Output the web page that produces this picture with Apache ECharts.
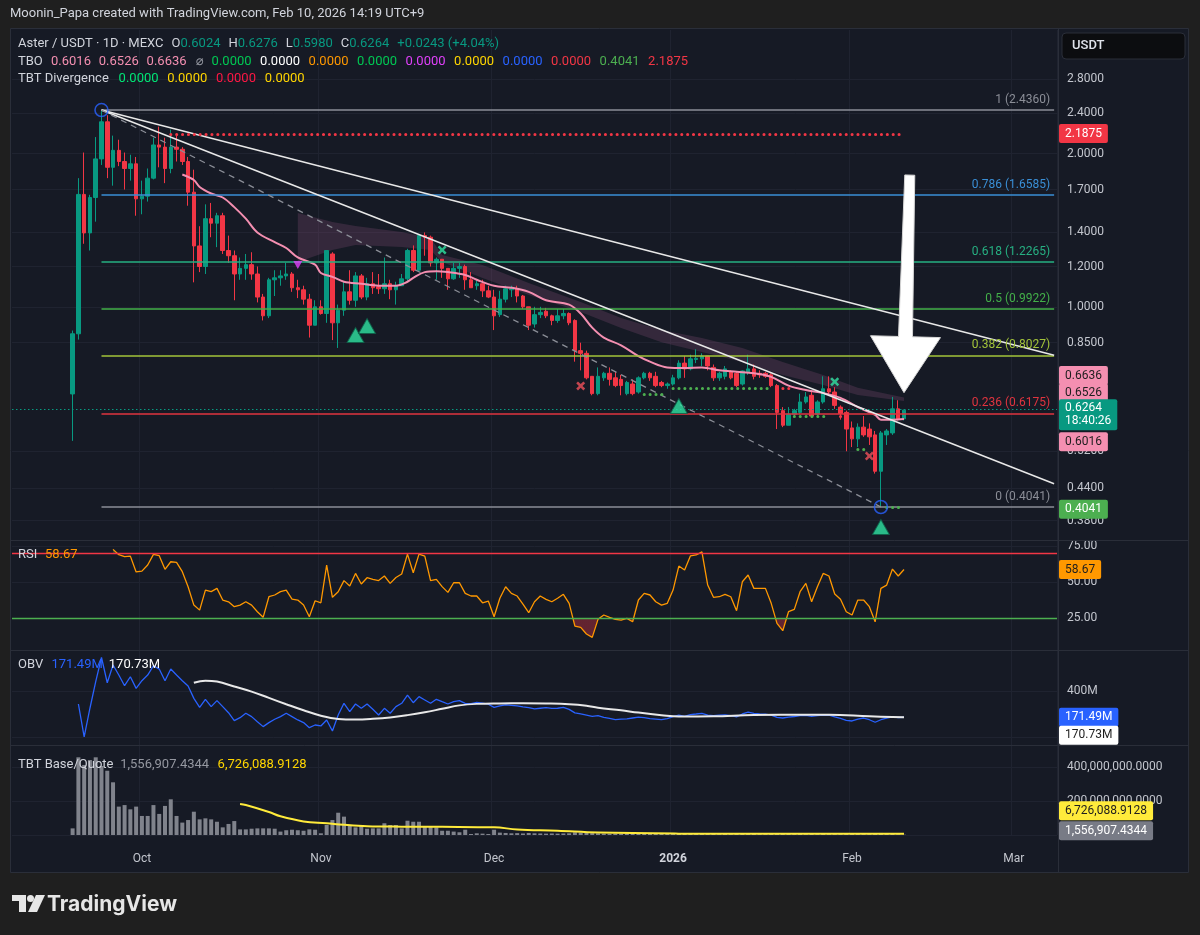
<!DOCTYPE html>
<html>
<head>
<meta charset="utf-8">
<title>Aster / USDT 1D</title>
<script src="https://cdn.jsdelivr.net/npm/echarts@6.0.0/dist/echarts.min.js"></script>
<style>
html, body { margin: 0; padding: 0; background: #1f1f1f; }
#chart { width: 1200px; height: 935px; }
</style>
</head>
<body>
<div id="chart"></div>
<script>
const FONT = 'Roboto, "DejaVu Sans", sans-serif';
const UP = '#089981', DOWN = '#f23645';
const OFF = 10;    // first candle (Sep 19) is 10 slots after the axis start (Sep 9)
const NCAT = 181;  // Sep 9 2025 .. Mar 8 2026

// ---- data ----
const opens = [0.674,0.885,1.663,1.397,1.64,1.953,2.31,1.88,2.03,1.93,
  1.87,1.91,1.63,1.65,1.79,2.08,2.06,1.87,2.06,2.04,
  1.93,1.68,1.317,1.20,1.49,1.46,1.51,1.29,1.26,1.16,
  1.19,1.21,1.16,1.045,0.96,1.13,1.14,1.15,1.16,1.09,
  1.08,1.035,0.92,1.0,0.97,1.27,0.93,0.985,1.07,1.03,
  1.15,1.045,1.11,1.095,1.085,1.11,1.08,1.10,1.135,1.29,
  1.18,1.38,1.37,1.22,1.24,1.19,1.135,1.19,1.20,1.13,
  1.10,1.11,1.075,1.045,0.965,1.035,1.08,1.085,1.05,1.0,
  0.925,0.965,0.98,0.96,0.94,0.96,0.97,0.94,0.82,0.81,
  0.73,0.675,0.725,0.74,0.725,0.72,0.675,0.705,0.68,0.725,
  0.74,0.73,0.71,0.70,0.705,0.725,0.775,0.755,0.788,0.79,
  0.80,0.76,0.725,0.73,0.745,0.74,0.705,0.745,0.755,0.74,
  0.74,0.735,0.70,0.625,0.585,0.615,0.62,0.65,0.67,0.615,
  0.65,0.69,0.68,0.635,0.62,0.578,0.55,0.58,0.575,0.56,
  0.475,0.56,0.565,0.63,0.6024];
const closes = [0.885,1.663,1.397,1.64,1.953,2.31,1.88,2.03,1.93,1.87,
  1.91,1.63,1.65,1.79,2.08,2.06,1.87,2.06,2.04,1.93,
  1.68,1.317,1.20,1.49,1.46,1.51,1.29,1.26,1.16,1.19,
  1.21,1.16,1.045,0.96,1.13,1.14,1.15,1.16,1.09,1.08,
  1.035,0.92,1.0,0.97,1.29,0.93,0.985,1.07,1.03,1.15,
  1.045,1.11,1.09,1.085,1.11,1.08,1.10,1.135,1.29,1.18,
  1.38,1.37,1.22,1.24,1.19,1.135,1.19,1.20,1.13,1.09,
  1.11,1.075,1.045,0.96,1.035,1.085,1.085,1.05,1.0,0.92,
  0.965,0.975,0.96,0.94,0.96,0.97,0.93,0.82,0.81,0.725,
  0.675,0.73,0.74,0.72,0.70,0.70,0.71,0.675,0.725,0.74,
  0.725,0.70,0.70,0.705,0.725,0.775,0.755,0.79,0.792,0.80,
  0.765,0.725,0.74,0.755,0.725,0.70,0.748,0.755,0.73,0.735,
  0.73,0.70,0.62,0.585,0.615,0.625,0.65,0.665,0.61,0.65,
  0.69,0.68,0.64,0.617,0.575,0.55,0.58,0.56,0.555,0.475,
  0.565,0.57,0.63,0.6024,0.6264];
const lows = [0.545,0.862,1.33,1.29,1.47,1.90,1.79,1.73,1.89,1.70,
  1.77,1.51,1.52,1.61,1.78,1.88,1.75,1.83,1.93,1.90,
  1.58,1.117,1.17,1.16,1.37,1.31,1.27,1.22,1.03,1.13,
  1.13,1.13,1.02,0.94,0.95,1.05,1.10,1.13,1.07,1.04,
  1.01,0.87,0.92,0.965,0.93,0.86,0.83,0.96,1.01,1.0,
  1.035,1.03,1.06,1.06,1.06,1.035,1.01,1.10,1.12,1.17,
  1.17,1.26,1.20,1.13,1.14,1.08,1.13,1.14,1.08,1.09,
  1.08,1.045,1.04,0.90,0.955,1.02,1.045,1.02,0.99,0.90,
  0.91,0.95,0.95,0.92,0.93,0.945,0.92,0.78,0.75,0.72,
  0.67,0.67,0.715,0.70,0.695,0.67,0.67,0.67,0.675,0.72,
  0.715,0.695,0.695,0.69,0.70,0.72,0.725,0.75,0.775,0.765,
  0.75,0.715,0.715,0.72,0.72,0.695,0.70,0.735,0.72,0.725,
  0.725,0.695,0.575,0.58,0.585,0.61,0.615,0.645,0.605,0.61,
  0.645,0.67,0.63,0.60,0.52,0.53,0.53,0.555,0.535,0.47,
  0.4041,0.535,0.56,0.598,0.598];
const highs = [0.898,1.79,2.01,1.66,2.156,2.436,2.38,2.17,2.13,2.01,
  1.99,1.97,1.77,1.87,2.15,2.26,2.15,2.23,2.17,2.06,
  1.97,1.86,1.44,1.59,1.60,1.53,1.53,1.38,1.29,1.25,
  1.27,1.28,1.20,1.06,1.14,1.18,1.18,1.22,1.17,1.13,
  1.10,1.06,1.03,1.03,1.29,1.28,1.01,1.12,1.18,1.17,
  1.16,1.14,1.17,1.16,1.25,1.13,1.12,1.16,1.30,1.32,
  1.39,1.40,1.38,1.25,1.24,1.19,1.22,1.22,1.21,1.17,
  1.13,1.13,1.10,1.08,1.075,1.10,1.10,1.10,1.055,1.0,
  1.0,1.0,0.995,0.965,0.99,0.99,0.975,0.945,0.85,0.82,
  0.73,0.76,0.745,0.76,0.745,0.735,0.715,0.72,0.73,0.745,
  0.745,0.745,0.715,0.71,0.735,0.785,0.80,0.805,0.825,0.81,
  0.80,0.77,0.745,0.765,0.75,0.745,0.75,0.805,0.77,0.75,
  0.745,0.74,0.705,0.635,0.635,0.63,0.675,0.68,0.68,0.655,
  0.73,0.73,0.695,0.64,0.625,0.595,0.59,0.61,0.59,0.57,
  0.57,0.575,0.665,0.655,0.6276];

// TBO fast line, sampled [candle, price]
const tboFast = [[19,1.82],[21,1.775],[22,1.72],[24,1.67],[26,1.64],[28,1.57],[30,1.49],[32,1.40],
  [35,1.34],[37,1.305],[39,1.25],[42,1.21],[43,1.165],[45,1.145],[47,1.12],[50,1.11],[53,1.10],
  [56,1.10],[58,1.12],[59,1.14],[61,1.17],[63,1.175],[65,1.17],[68,1.155],[70,1.13],[73,1.10],
  [76,1.09],[79,1.07],[82,1.03],[86,1.01],[88,0.97],[90,0.91],[92,0.87],[95,0.84],[98,0.80],
  [100,0.78],[103,0.76],[106,0.758],[109,0.76],[112,0.75],[115,0.745],[118,0.74],[121,0.728],
  [124,0.70],[127,0.686],[130,0.677],[133,0.662],[136,0.635],[139,0.613],[140,0.60],[142,0.60],[144,0.6016]];
// TBO medium / slow cloud
const bandIdx = [39,45,49,57,62,64,71,79,88,95,102,109,116,123,130,136,144];
const bandUpper = [1.529,1.467,1.441,1.403,1.365,1.264,1.208,1.114,1.022,0.951,0.900,0.868,0.830,0.779,0.734,0.693,0.6636];
const bandLower = [1.225,1.293,1.323,1.311,1.293,1.225,1.139,1.055,0.977,0.908,0.852,0.815,0.779,0.734,0.702,0.671,0.6526];

const fibLevels = ['1', '0.786', '0.618', '0.5', '0.382', '0.236', '0'];
const fibPrices = [2.4360, 1.6585, 1.2265, 0.9922, 0.8027, 0.6175, 0.4041];
const fibStart = 5;
const trendA = [[5, 2.436], [170, 0.803]];
const trendB = [[5, 2.436], [170, 0.449]];
const trendDashed = [[5, 2.436], [140, 0.4041]];

const greenDotSegs = [[99,103,0.673],[104,121,0.693],[125,131,0.610],[136,138,0.5255],[141,144,0.4041]];
const redDotSegs = [[17,144,2.1875],[122,125,0.693],[133,135,0.610]];

const buySignals = [[49,0.880],[51,0.917],[105,0.638],[140,0.369]];
const sellTriangles = [[39,1.208]];
const greenCrosses = [[64,1.293],[132,0.7125]];
const redCrosses = [[88,0.699],[138,0.509]];
const pivotCircles = [[5,2.436],[140,0.4041]];
const arrowTip = [144, 0.678];
const arrowTail = [145, 1.815];

const lastClose = 0.6264, topLevel = 2.1875, lowLevel = 0.4041;
const tboLast = [0.6016, 0.6526, 0.6636];
const priceTicks = [0.38, 0.44, 0.52, 0.85, 1.0, 1.2, 1.4, 1.7, 2.0, 2.4, 2.8];

const rsi = [null,null,null,null,null,null,null,72.7,69,67.6,
  68,57,57.6,61.8,69.2,68.3,58.8,64.1,63.7,57.2,
  46.7,34,30.5,44.4,43.3,45.6,37.5,36.3,32.9,34,
  36.3,34,29.4,25.5,39.8,41,43.3,44.4,38.2,37.5,
  34,25.9,37,35.6,61.8,39.4,43.3,51,47.2,56,
  48.6,53,51.9,51,54.2,49.1,53.2,55.6,69.4,56.5,
  69.4,68,51,51.9,46.8,42.8,49.5,49.5,42.1,40.3,
  40.3,35.6,36.8,25.9,38.7,46.7,42.1,40.3,34.7,28.7,
  36.3,40.3,38,36.3,38.7,41.5,35.2,19.4,18.5,13.9,
  11.6,24.1,27.1,25.5,24,23.6,24.8,22.4,37.5,42.1,
  41,36.3,34,35.2,44.4,61.1,58.3,68.1,68.8,71,
  47.9,39.4,39.8,41.5,39.8,30.1,50.2,54.9,45.6,45.6,
  45.6,35.2,21.3,16.2,29.4,31,43.3,49.1,36.3,46.7,
  56,54.2,41.7,38,29.4,27.1,37.5,37.5,32.9,22.4,
  45.6,47.9,59,54.2,58.67];
const rsiTicks = [25, 50, 75];

// OBV in millions
const obv = [null,287,0,250,481,693,472,626,539,446,
  524,423,490,539,620,591,490,591,539,490,
  443,336,258,328,264,316,264,211,142,168,
  206,177,133,90,125,154,177,206,177,148,
  125,81,104,96,148,52,191,293,220,287,
  249,287,241,191,249,206,264,293,365,298,
  351,322,293,328,307,287,307,316,293,290,
  300,295,285,258,270,280,275,270,262,255,
  245,250,255,248,250,258,240,210,200,190,
  180,185,170,162,150,155,158,165,172,168,
  160,155,150,160,177,190,180,195,200,206,
  190,185,190,192,185,175,200,217,205,200,
  198,190,170,165,172,178,185,188,180,186,
  190,189,175,162,145,139,155,165,150,128,
  150,165,175,168,171.49];
const obvMa = [[21,472],[23,490],[25,482],[28,440],[31,395],[34,340],[37,285],[40,232],[43,185],[46,157],
  [49,152],[52,158],[55,170],[58,190],[61,215],[64,245],[67,275],[70,288],[74,292],[78,293],[82,291],
  [86,285],[89,272],[91,255],[95,232],[98,212],[102,190],[105,178],[111,180],[118,191],[125,193],
  [131,194],[138,180],[144,170.73]];

// TBT base/quote volume in millions
const vol = [39,457,412,441,457,406,378,310,167,176,
  151,167,112,112,176,124,171,210,112,73,
  88,137,92,98,92,78,45,65,82,33,
  33,37,39,39,39,37,20,28,31,28,
  25,33,31,10,59,88,131,108,59,45,
  59,37,39,39,69,59,59,39,84,78,
  78,49,49,45,25,25,20,16,31,6,
  10,8,6,31,14,12,10,11,9,12,
  10,9,8,9,8,9,10,16,14,12,
  11,10,8,7,8,7,9,8,8,7,
  6,7,6,6,7,9,8,7,7,8,
  7,6,5,6,5,6,6,7,6,5,
  5,6,10,8,6,5,6,5,6,5,
  6,5,5,5,8,7,6,5,5,9,
  12,6,6,4,1.56];
const volMa = [[29,182],[30,176],[34,135],[36,110],[40,80],[44,69],[47,60],[51,52],[57,49],[64,48],
  [73,45],[77,33],[84,25],[91,14],[105,8],[118,7],[144,6.73]];

// ---- helpers ----
const cats = [];
for (let i = 0; i < NCAT; i++) cats.push(new Date(Date.UTC(2025, 8, 9 + i)).toISOString().slice(0, 10));
const monthLabels = ['2026','Feb','Mar','Apr','May','Jun','Jul','Aug','Sep','Oct','Nov','Dec'];
const isMonthStart = (i) => !!cats[i] && cats[i].slice(8) === '01';
const pad = arr => Array(OFF).fill('-').concat(arr.map(v => v == null ? '-' : v));
const shift = pts => pts.map(p => [p[0] + OFF, p[1]]);
const noLine = {color: 'rgba(0,0,0,0)', width: 0};

const candleData = Array(OFF).fill(['-','-','-','-']).concat(opens.map((o, i) => [o, closes[i], lows[i], highs[i]]));

const fibColors = ['#8b8e97', '#3a8fd6', '#26b082', '#43b049', '#a3c43a', '#e0343f', '#8b8e97'];
const fibLines = fibLevels.map((lv, k) => [
  {coord: [OFF + fibStart, fibPrices[k]], lineStyle: {color: fibColors[k], width: 1.5, type: 'solid'},
   label: {show: true, position: 'insideEndTop', distance: 4, formatter: lv + ' (' + fibPrices[k].toFixed(4) + ')',
           color: fibColors[k], fontSize: 12, fontFamily: FONT}},
  {coord: [NCAT - 1, fibPrices[k]]}
]);
const seg = (pts, style) => [{coord: [pts[0][0] + OFF, pts[0][1]], lineStyle: style}, {coord: [pts[1][0] + OFF, pts[1][1]]}];
const dots = (s, color) => [{coord: [s[0] + OFF, s[2]], lineStyle: {color, width: 3, type: [0.1, 5.773], cap: 'round'}}, {coord: [s[1] + OFF, s[2]]}];

const tag = (v, text, bg, fg, dy, extra) => Object.assign({
  yAxis: v, lineStyle: noLine,
  label: {show: true, position: 'end', distance: 2, formatter: text, backgroundColor: bg, color: fg,
          padding: [4, 6, 3, 6], borderRadius: 2, fontSize: 12, fontFamily: FONT, offset: [0, dy]}
}, extra || {});

const axisText = {color: '#c3c6ce', fontSize: 12, fontFamily: FONT, margin: 10};
const gridLine = {show: true, lineStyle: {color: '#1f2330', width: 1}};

const xAxes = [0, 1, 2, 3].map(g => ({
  type: 'category', gridIndex: g, data: cats, boundaryGap: true,
  axisLine: {show: false}, axisTick: {show: false},
  axisLabel: g === 3 ? {
    interval: isMonthStart, margin: 18, color: '#c3c6ce', fontSize: 12, fontFamily: FONT,
    formatter: v => { const m = +v.slice(5, 7); return m === 1 ? '{y|' + v.slice(0, 4) + '}' : monthLabels[m - 1]; },
    rich: {y: {fontWeight: 'bold', color: '#d1d4dc', fontSize: 12, fontFamily: FONT}}
  } : {show: false},
  splitLine: {show: true, interval: isMonthStart, lineStyle: {color: '#1f2330', width: 1}}
}));

const yAxes = [
  {type: 'log', gridIndex: 0, position: 'right', min: 0.348, max: 3.5,
   axisLine: {show: false}, axisTick: {show: false, customValues: priceTicks},
   axisLabel: Object.assign({customValues: priceTicks, formatter: v => (+v).toFixed(4)}, axisText), splitLine: gridLine},
  {type: 'value', gridIndex: 1, position: 'right', min: 2.8, max: 79.2,
   axisLine: {show: false}, axisTick: {show: false, customValues: rsiTicks},
   axisLabel: Object.assign({customValues: rsiTicks, formatter: v => (+v).toFixed(2)}, axisText), splitLine: gridLine},
  {type: 'value', gridIndex: 2, position: 'right', min: -70, max: 757,
   axisLine: {show: false}, axisTick: {show: false, customValues: [0, 400]},
   axisLabel: Object.assign({customValues: [400], formatter: v => v + 'M'}, axisText), splitLine: gridLine},
  {type: 'value', gridIndex: 3, position: 'right', min: 0, max: 529.4,
   axisLine: {show: false}, axisTick: {show: false, customValues: [0, 200, 400]},
   axisLabel: Object.assign({customValues: [200, 400],
     formatter: v => (v * 1e6).toLocaleString('en-US', {minimumFractionDigits: 4, maximumFractionDigits: 4})}, axisText),
   splitLine: gridLine}
];

const xSym = 'path://M2,0L5,3L8,0L10,2L7,5L10,8L8,10L5,7L2,10L0,8L3,5L0,2Z';
const series = [];
series.push({
  type: 'custom', name: 'tboCloud', xAxisIndex: 0, yAxisIndex: 0, z: 1, silent: true,
  data: [[OFF + bandIdx[0], bandUpper[0]]],
  renderItem: (params, api) => {
    const top = bandIdx.map((i, k) => api.coord([i + OFF, bandUpper[k]]));
    const bot = bandIdx.map((i, k) => api.coord([i + OFF, bandLower[k]])).reverse();
    return {type: 'polygon', shape: {points: top.concat(bot)}, style: {fill: 'rgba(140,80,125,0.26)'}};
  }
});
series.push({
  type: 'candlestick', name: 'Aster / USDT', xAxisIndex: 0, yAxisIndex: 0, z: 3, barWidth: 4,
  data: candleData,
  itemStyle: {color: UP, color0: DOWN, borderColor: UP, borderColor0: DOWN, borderWidth: 1},
  markLine: {
    symbol: 'none', silent: true, animation: false, label: {show: false},
    data: [].concat(
      fibLines,
      [seg(trendA, {color: '#e8e8e8', width: 1.5, type: 'solid'}),
       seg(trendB, {color: '#e8e8e8', width: 1.5, type: 'solid'}),
       seg(trendDashed, {color: '#8b8e97', width: 1.3, type: [6, 5]})],
      greenDotSegs.map(s => dots(s, '#4caf50')),
      redDotSegs.map(s => dots(s, '#f23645'))
    )
  }
});
series.push({
  type: 'line', name: 'TBO', xAxisIndex: 0, yAxisIndex: 0, z: 4, data: shift(tboFast),
  smooth: 0.35, symbol: 'none', lineStyle: {color: '#f48fb1', width: 2},
  markLine: {
    symbol: 'none', silent: true, animation: false,
    data: [
      tag(topLevel, topLevel.toFixed(4), '#f23645', '#ffffff', 0),
      tag(tboLast[2], tboLast[2].toFixed(4), '#f48fb1', '#1e1e1e', -23),
      tag(tboLast[1], tboLast[1].toFixed(4), '#f48fb1', '#1e1e1e', -9),
      tag(tboLast[0], tboLast[0].toFixed(4), '#f48fb1', '#1e1e1e', 22),
      tag(lowLevel, lowLevel.toFixed(4), '#4caf50', '#ffffff', 0),
      {yAxis: lastClose, lineStyle: {color: UP, width: 1, type: [1.5, 2.5]},
       label: {show: true, position: 'end', distance: 2, formatter: lastClose.toFixed(4) + '\n18:40:26',
               backgroundColor: UP, color: '#ffffff', padding: [3, 6, 2, 6], lineHeight: 13, borderRadius: 2,
               fontSize: 12, fontFamily: FONT, offset: [0, 6]}}
    ]
  }
});
series.push({type: 'scatter', xAxisIndex: 0, yAxisIndex: 0, z: 6, silent: true, data: shift(buySignals),
  symbol: 'triangle', symbolSize: [17, 15], itemStyle: {color: '#2fe3a2', borderColor: '#0e5e47', borderWidth: 1}});
series.push({type: 'scatter', xAxisIndex: 0, yAxisIndex: 0, z: 6, silent: true, data: shift(sellTriangles),
  symbol: 'path://M0,0L10,0L5,9Z', symbolSize: [9, 8], itemStyle: {color: '#e040fb'}});
series.push({type: 'scatter', xAxisIndex: 0, yAxisIndex: 0, z: 6, silent: true, data: shift(greenCrosses),
  symbol: xSym, symbolSize: 9, itemStyle: {color: '#2fe3a2'}});
series.push({type: 'scatter', xAxisIndex: 0, yAxisIndex: 0, z: 6, silent: true, data: shift(redCrosses),
  symbol: xSym, symbolSize: 9, itemStyle: {color: '#f0505a'}});
series.push({type: 'scatter', xAxisIndex: 0, yAxisIndex: 0, z: 6, silent: true, data: shift(pivotCircles),
  symbol: 'circle', symbolSize: 13, itemStyle: {color: 'rgba(0,0,0,0)', borderColor: '#2962ff', borderWidth: 1.6}});
series.push({
  type: 'custom', name: 'arrow', xAxisIndex: 0, yAxisIndex: 0, z: 8, silent: true,
  data: [[OFF + arrowTip[0], arrowTip[1]]],
  renderItem: (params, api) => {
    const t = api.coord([OFF + arrowTip[0], arrowTip[1]]);
    const s = api.coord([OFF + arrowTail[0], arrowTail[1]]);
    const dx = t[0] - s[0], dy = t[1] - s[1], L = Math.hypot(dx, dy);
    const ux = dx / L, uy = dy / L, nx = -uy, ny = ux;
    const bx = t[0] - ux * 56, by = t[1] - uy * 56;
    const P = (x, y, w) => [x + nx * w, y + ny * w];
    const pts = [P(s[0], s[1], 5), P(bx, by, 7), P(bx, by, 35), t, P(bx, by, -35), P(bx, by, -7), P(s[0], s[1], -5)];
    return {type: 'polygon', shape: {points: pts}, style: {fill: '#ffffff', stroke: '#d6d6d6', lineWidth: 1}};
  }
});
const RSI_FILL = series.length;
series.push({type: 'line', xAxisIndex: 1, yAxisIndex: 1, z: 1, silent: true, data: pad(rsi), symbol: 'none',
  lineStyle: {width: 0, opacity: 0}, areaStyle: {origin: 25, opacity: 1}});
series.push({type: 'line', name: 'RSI', xAxisIndex: 1, yAxisIndex: 1, z: 3, data: pad(rsi), symbol: 'none',
  lineStyle: {color: '#ff9800', width: 1.3},
  markLine: {symbol: 'none', silent: true, animation: false, label: {show: false},
    data: [{yAxis: 70, lineStyle: {color: '#f23645', width: 1.3, type: 'solid'}},
           {yAxis: 25, lineStyle: {color: '#4caf50', width: 1.3, type: 'solid'}},
           tag(58.67, '58.67', '#ff9800', '#1e1e1e', 0)]}});
series.push({type: 'line', name: 'OBV', xAxisIndex: 2, yAxisIndex: 2, z: 3, data: pad(obv), symbol: 'none',
  lineStyle: {color: '#2962ff', width: 1.3},
  markLine: {symbol: 'none', silent: true, animation: false,
    data: [tag(171.49, '171.49M', '#2962ff', '#ffffff', 0), tag(170.73, '170.73M', '#ffffff', '#1e1e1e', 18)]}});
series.push({type: 'line', xAxisIndex: 2, yAxisIndex: 2, z: 4, data: shift(obvMa), symbol: 'none', smooth: 0.4,
  lineStyle: {color: '#e8e8e8', width: 2}});
series.push({type: 'bar', name: 'TBT Base/Quote', xAxisIndex: 3, yAxisIndex: 3, z: 2, data: pad(vol), barWidth: 4,
  itemStyle: {color: '#80838c'},
  markLine: {symbol: 'none', silent: true, animation: false,
    data: [tag(6.726, '6,726,088.9128', '#ffeb3b', '#1e1e1e', -23), tag(1.557, '1,556,907.4344', '#787b86', '#ffffff', -4)]}});
series.push({type: 'line', xAxisIndex: 3, yAxisIndex: 3, z: 4, data: shift(volMa), symbol: 'none', smooth: 0.4,
  lineStyle: {color: '#ffeb3b', width: 2}});

const rs = (color, w, extra) => Object.assign({color, fontSize: 13, fontFamily: FONT, lineHeight: 16}, w ? {width: w} : {}, extra || {});
const titleRow = (left, top, text, rich) => ({left, top, padding: 0, text, textStyle: {fontSize: 13, fontFamily: FONT, fontWeight: 'normal', color: '#d1d4dc', lineHeight: 16, rich}});

const title = [
  titleRow(10, 6, 'Moonin_Papa created with TradingView.com, Feb 10, 2026 14:19 UTC+9', {}),
  titleRow(18, 36, '{n|Aster / USDT · 1D · MEXC}{k|O}{v|0.6024}{k|H}{v|0.6276}{k|L}{v|0.5980}{k|C}{v|0.6264}{c|+0.0243 (+4.04%)}',
    {n: rs('#d1d4dc', 153.6), k: rs('#d1d4dc'), v: rs(UP, 48), c: rs(UP)}),
  titleRow(18, 54, '{n|TBO}{p|0.6016}{p|0.6526}{q|0.6636}{d|⌀}{g|0.0000}{w|0.0000}{o|0.0000}{g|0.0000}{m|0.0000}{y|0.0000}{b|0.0000}{r|0.0000}{h|0.4041}{r|2.1875}',
    {n: rs('#d1d4dc', 33), p: rs('#f48fb1', 47.8), q: rs('#f48fb1', 49.4), d: rs('#9598a1', 15.6),
     g: rs('#00c853', 48.5), w: rs('#ffffff', 48.5), o: rs('#ff9800', 48.5), m: rs('#e040fb', 48.5),
     y: rs('#ffd600', 48.5), b: rs('#2962ff', 48.5), r: rs('#f23645', 48.5), h: rs('#4caf50', 48.5)}),
  titleRow(18, 71, '{n|TBT Divergence}{g|0.0000}{y|0.0000}{r|0.0000}{y|0.0000}',
    {n: rs('#d1d4dc', 100.6), g: rs('#00e676', 48.7), y: rs('#ffd600', 48.7), r: rs('#ff1744', 48.7)}),
  titleRow(18, 547, '{n|RSI}{v|58.67}', {n: rs('#d1d4dc', 27), v: rs('#ff9800')}),
  titleRow(18, 657, '{n|OBV}{b|171.49M}{w|170.73M}', {n: rs('#d1d4dc', 33.5), b: rs('#2962ff', 57.3), w: rs('#ffffff')}),
  titleRow(18, 757, '{n|TBT Base/Quote}{g|1,556,907.4344}{y|6,726,088.9128}', {n: rs('#d1d4dc', 102.2), g: rs('#9598a1', 97.4), y: rs('#ffd600')}),
  {left: 47, top: 893, padding: 0, text: 'TradingView', textStyle: {fontSize: 21, fontWeight: 'bold', color: '#e6e6e6', fontFamily: 'Inter, Roboto, sans-serif', lineHeight: 24}}
];

const frame = '#1f1f1f', sep = '#2a2e39';
const graphic = [
  {type: 'rect', silent: true, z: 0, shape: {x: 0, y: 0, width: 1200, height: 28}, style: {fill: frame}},
  {type: 'rect', silent: true, z: 0, shape: {x: 0, y: 873, width: 1200, height: 62}, style: {fill: frame}},
  {type: 'rect', silent: true, z: 0, shape: {x: 0, y: 0, width: 10, height: 935}, style: {fill: frame}},
  {type: 'rect', silent: true, z: 0, shape: {x: 1189, y: 0, width: 11, height: 935}, style: {fill: frame}},
  {type: 'rect', silent: true, z: 1, shape: {x: 10.5, y: 28.5, width: 1178, height: 844}, style: {fill: 'none', stroke: sep, lineWidth: 1}},
  {type: 'line', silent: true, z: 1, shape: {x1: 10, y1: 540.5, x2: 1189, y2: 540.5}, style: {stroke: sep, lineWidth: 1}},
  {type: 'line', silent: true, z: 1, shape: {x1: 10, y1: 650.5, x2: 1189, y2: 650.5}, style: {stroke: sep, lineWidth: 1}},
  {type: 'line', silent: true, z: 1, shape: {x1: 10, y1: 745.5, x2: 1189, y2: 745.5}, style: {stroke: sep, lineWidth: 1}},
  {type: 'line', silent: true, z: 1, shape: {x1: 1058.5, y1: 28, x2: 1058.5, y2: 873}, style: {stroke: sep, lineWidth: 1}},
  {type: 'rect', silent: true, z: 10, shape: {x: 1062, y: 33, width: 123, height: 26, r: 4}, style: {fill: '#0c0d10', stroke: sep, lineWidth: 1}},
  {type: 'text', silent: true, z: 11, style: {x: 1072, y: 46, text: 'USDT', fill: '#e0e3eb', font: '500 13px Roboto', verticalAlign: 'middle', textVerticalAlign: 'middle'}},
  {type: 'polygon', silent: true, z: 11, shape: {points: [[12, 895], [26, 895], [26, 912], [19, 912], [19, 901], [12, 901]]}, style: {fill: '#e6e6e6'}},
  {type: 'circle', silent: true, z: 11, shape: {cx: 30.5, cy: 898.5, r: 3.5}, style: {fill: '#e6e6e6'}},
  {type: 'polygon', silent: true, z: 11, shape: {points: [[36, 895], [45, 895], [37, 912], [28, 912]]}, style: {fill: '#e6e6e6'}}
];

const chart = echarts.init(document.getElementById('chart'), null, {renderer: 'canvas'});
chart.setOption({
  backgroundColor: '#161a25',
  animation: false,
  textStyle: {fontFamily: FONT},
  title,
  graphic,
  grid: [
    {left: 12, right: 143, top: 30, height: 510, outerBoundsMode: 'none'},
    {left: 12, right: 143, top: 540, height: 110, outerBoundsMode: 'none'},
    {left: 12, right: 143, top: 650, height: 95, outerBoundsMode: 'none'},
    {left: 12, right: 143, top: 745, height: 90, outerBoundsMode: 'none'}
  ],
  xAxis: xAxes,
  yAxis: yAxes,
  visualMap: [{
    type: 'piecewise', show: false, seriesIndex: RSI_FILL, dimension: 1,
    pieces: [{lt: 25, color: 'rgba(242,54,69,0.35)'}, {gte: 25, lte: 70, color: 'rgba(0,0,0,0)'}, {gt: 70, color: 'rgba(76,175,80,0.3)'}]
  }],
  series
});
window.addEventListener('resize', function () { chart.resize(); });
</script>
</body>
</html>
